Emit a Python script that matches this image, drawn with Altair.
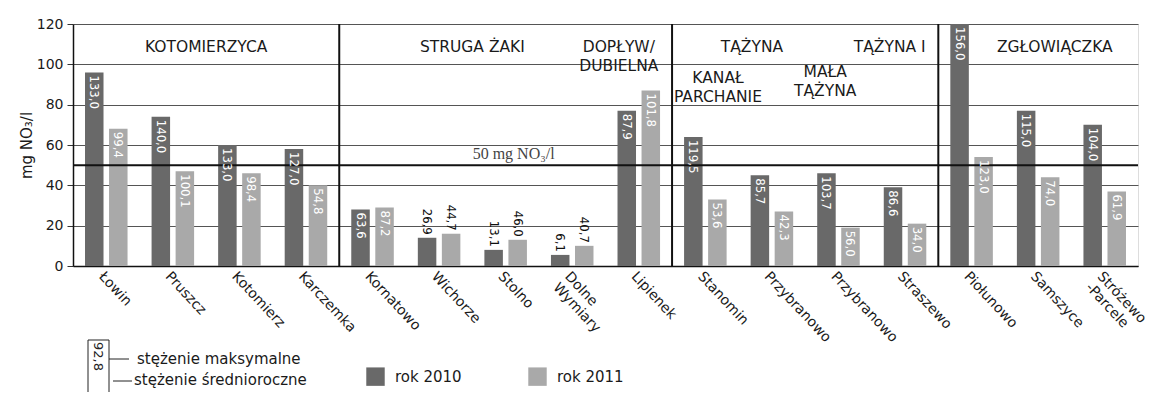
import altair as alt
import pandas as pd

# ---------------- data ----------------
stations = ["Łowin", "Pruszcz", "Kotomierz", "Karczemka", "Kornatowo", "Wichorze",
            "Stolno", "Dolne|Wymiary", "Lipienek", "Stanomin", "Przybranowo",
            "Przybranowo ", "Straszewo", "Piołunowo", "Samszyce", "Stróżewo|-Parcele"]
years = ["rok 2010", "rok 2011"]
mean_2010 = [96, 74, 60, 58, 28, 14, 8, 5.5, 77, 64, 45, 46, 39, 120, 77, 70]
mean_2011 = [68, 47, 46, 40, 29, 16, 13, 10, 87, 33, 27, 19, 21, 54, 44, 37]
max_2010 = ["133,0", "140,0", "133,0", "127,0", "63,6", "26,9", "13,1", "6,1",
            "87,9", "119,5", "85,7", "103,7", "86,6", "156,0", "115,0", "104,0"]
max_2011 = ["99,4", "100,1", "98,4", "54,8", "87,2", "44,7", "46,0", "40,7",
            "101,8", "53,6", "42,3", "56,0", "34,0", "123,0", "74,0", "61,9"]

# river group titles (one row per text line)
title_text = ["KOTOMIERZYCA", "STRUGA ŻAKI", "DOPŁYW/", "DUBIELNA", "TĄŻYNA", "TĄŻYNA I",
              "KANAŁ", "PARCHANIE", "MAŁA", "TĄŻYNA", "ZGŁOWIĄCZKA"]
title_station = ["Kotomierz", "Stolno", "Lipienek", "Lipienek", "Przybranowo", "Straszewo",
                 "Stanomin", "Stanomin", "Przybranowo ", "Przybranowo ", "Samszyce"]
title_band = [0.0, 0.0, 0.2, 0.2, 0.2, 0.27, 0.69, 0.69, 0.3, 0.3, 0.75]
title_y = [108.5, 108.5, 108.5, 99, 108.5, 108.5, 93, 84, 96, 87, 108.5]

group_starts = ["Kornatowo", "Stanomin", "Piołunowo"]
limit_value = 50
limit_label = "50 mg NO₃/l"
y_ticks = [0, 20, 40, 60, 80, 100, 120]
legend_texts = ["stężenie maksymalne", "stężenie średnioroczne"]
legend_example = "92,8"
y_title = "mg NO₃/l"

rows = []
for i, s in enumerate(stations):
    rows.append({"station": s, "year": years[0], "mean": mean_2010[i], "max": max_2010[i]})
    rows.append({"station": s, "year": years[1], "mean": mean_2011[i], "max": max_2011[i]})
df = pd.DataFrame(rows)

FONT = "DejaVu Sans"
W, H = 1065, 242

xsc = alt.Scale(domain=stations, paddingInner=0, paddingOuter=0)
xoff = alt.XOffset("year:N", sort=years,
                   scale=alt.Scale(domain=years, paddingInner=0.23, paddingOuter=0.5))
ysc = alt.Scale(domain=[0, 120], nice=False)


def xenc(bp=None):
    if bp is None:
        return alt.X("station:N", scale=xsc, sort=stations, title=None)
    return alt.X("station:N", scale=xsc, sort=stations, title=None, bandPosition=bp)


def yenc(field):
    return alt.Y(field, scale=ysc, title=y_title)


base = alt.Chart(df)

bars = base.mark_bar().encode(
    x=alt.X("station:N", scale=xsc, sort=stations, title=None,
            axis=alt.Axis(labelExpr="split(datum.label, '|')", labelAngle=47,
                          labelAlign="left", labelBaseline="top", labelFontSize=14,
                          labelFont=FONT, labelColor="#1a1a1a", labelPadding=3,
                          labelLineHeight=16, labelOverlap=False, labelFlush=False,
                          ticks=False, domainColor="#111", domainWidth=1.5, grid=False)),
    xOffset=xoff,
    y=alt.Y("mean:Q", scale=ysc, title=y_title,
            axis=alt.Axis(values=y_ticks, labelFontSize=14, labelFont=FONT,
                          labelColor="#1a1a1a", tickSize=6, tickColor="#333",
                          labelPadding=4, titleFont=FONT, titleFontSize=15,
                          titleFontWeight="normal", titleColor="#1a1a1a",
                          titlePadding=2, domainColor="#111", domainWidth=1.5,
                          grid=True, gridColor="#555", gridWidth=1)),
    color=alt.Color("year:N", sort=years,
                    scale=alt.Scale(domain=years, range=["#696969", "#a9a9a9"]),
                    legend=alt.Legend(orient="none", legendX=293, legendY=343,
                                      direction="horizontal", title=None,
                                      symbolType="square", symbolSize=340,
                                      symbolStrokeWidth=0, labelFont=FONT,
                                      labelFontSize=15, labelColor="#1a1a1a",
                                      labelOffset=10, columnPadding=66, padding=0)),
)

inside = base.transform_filter("datum.mean >= 18").mark_text(
    angle=90, align="left", baseline="middle", dx=3, color="white",
    font="DejaVu Sans Condensed, DejaVu Sans", fontSize=13
).encode(x=xenc(), xOffset=xoff, y=yenc("mean:Q"), text="max:N")

outside = base.transform_filter("datum.mean < 18").mark_text(
    angle=90, align="right", baseline="middle", dx=-3, color="#111",
    font="DejaVu Sans Condensed, DejaVu Sans", fontSize=13
).encode(x=xenc(), xOffset=xoff, y=yenc("mean:Q"), text="max:N")

seps = alt.Chart(pd.DataFrame({"station": group_starts})).mark_rule(
    color="#111", strokeWidth=2
).encode(x=xenc(0))

limit_rule = alt.Chart(pd.DataFrame({"mean": [limit_value]})).mark_rule(
    color="#111", strokeWidth=2
).encode(y=yenc("mean:Q"))

limit_text = alt.Chart(pd.DataFrame({"station": ["Stolno"], "mean": [limit_value],
                                     "t": [limit_label]})).mark_text(
    font="Liberation Serif", fontSize=16, color="#444", dy=-11, baseline="middle"
).encode(x=xenc(0.62), y=yenc("mean:Q"), text="t:N")

title_layers = []
for t, s, b, yv in zip(title_text, title_station, title_band, title_y):
    title_layers.append(
        alt.Chart(pd.DataFrame({"station": [s], "mean": [yv], "t": [t]})).mark_text(
            font=FONT, fontSize=15.5, color="#1a1a1a", baseline="middle"
        ).encode(x=xenc(b), y=yenc("mean:Q"), text="t:N")
    )

# explanatory key for the value labels (bottom left)
one = alt.Chart(pd.DataFrame({"k": [0]}))
key_box = one.mark_rect(fill="white", stroke="#222", strokeWidth=1).encode(
    x=alt.value(15), x2=alt.value(36), y=alt.value(316), y2=alt.value(400))
key_num = one.mark_text(text=legend_example, angle=90, align="left", baseline="middle",
                        font=FONT, fontSize=13, color="#222").encode(
    x=alt.value(25), y=alt.value(318))
key_l1 = one.mark_rule(color="#222", strokeWidth=1).encode(
    x=alt.value(36), x2=alt.value(56), y=alt.value(335))
key_l2 = one.mark_rule(color="#222", strokeWidth=1).encode(
    x=alt.value(40), x2=alt.value(59), y=alt.value(357))
key_t1 = one.mark_text(text=legend_texts[0], align="left", baseline="middle",
                       font=FONT, fontSize=15, color="#1a1a1a").encode(
    x=alt.value(64), y=alt.value(335))
key_t2 = one.mark_text(text=legend_texts[1], align="left", baseline="middle",
                       font=FONT, fontSize=15, color="#1a1a1a").encode(
    x=alt.value(61), y=alt.value(356))

chart = alt.layer(
    bars, limit_rule, seps, inside, outside, limit_text, *title_layers,
    key_box, key_num, key_l1, key_l2, key_t1, key_t2
).properties(
    width=W, height=H,
    autosize=alt.AutoSizeParams(type="none"),
    padding={"left": 65, "top": 16, "right": 16, "bottom": 126},
).configure_view(
    fill="#e9e9e9", stroke="#222", strokeWidth=1.5
).configure(font=FONT, background="white")

chart.save("out.html", embed_options={"renderer": "svg", "actions": False})
